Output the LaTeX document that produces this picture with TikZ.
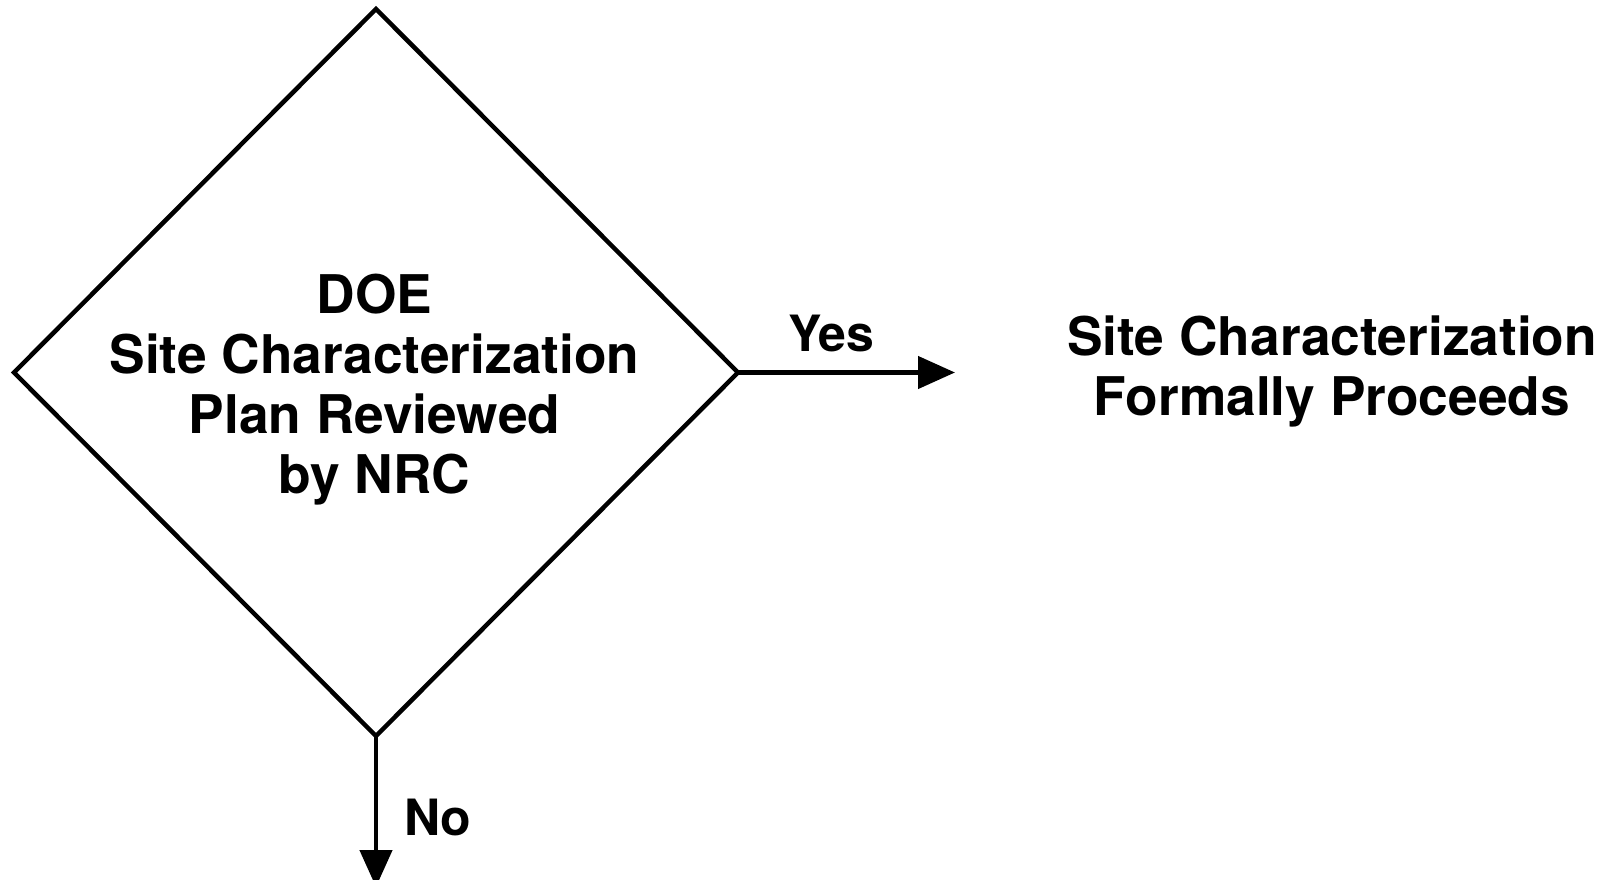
\documentclass[tikz,border=0pt]{standalone}
\usepackage{fontspec}
\setmainfont{TeX Gyre Heros}
\usetikzlibrary{shapes.geometric,arrows.meta}
\begin{document}
\begin{tikzpicture}[x=1pt,y=-1pt,
  thickline/.style={line width=4.5pt},
  flow/.style={thickline, -{Triangle[length=37pt,width=32pt]}},
  big/.style={font=\bfseries\fontsize{53.3}{60}\selectfont, align=center, inner sep=0pt},
  lab/.style={font=\bfseries\fontsize{50}{60}\selectfont, inner sep=0pt}]
\useasboundingbox (0,0) rectangle (1609,880);
\node[diamond, draw, thickline, line join=miter, minimum width=724pt, minimum height=727pt, inner sep=0pt, outer sep=0pt] (dec) at (376,372.5) {};
\node[big] (dectext) at (374.5,390) {DOE\\Site Characterization\\Plan Reviewed\\by NRC};
\node[big] (proceeds) at (1332,371) {Site Characterization\\Formally Proceeds};
\node[lab, anchor=base] (yes) at (831,351) {Yes};
\node[lab, anchor=base west] (no) at (404,835) {No};
\coordinate (yesend) at (955,372.5);
\coordinate (noend) at (dec.south |- 0,887);
\draw[flow] (dec.east) -- (yesend);
\draw[flow] (dec.south) -- (noend);
\end{tikzpicture}
\end{document}
